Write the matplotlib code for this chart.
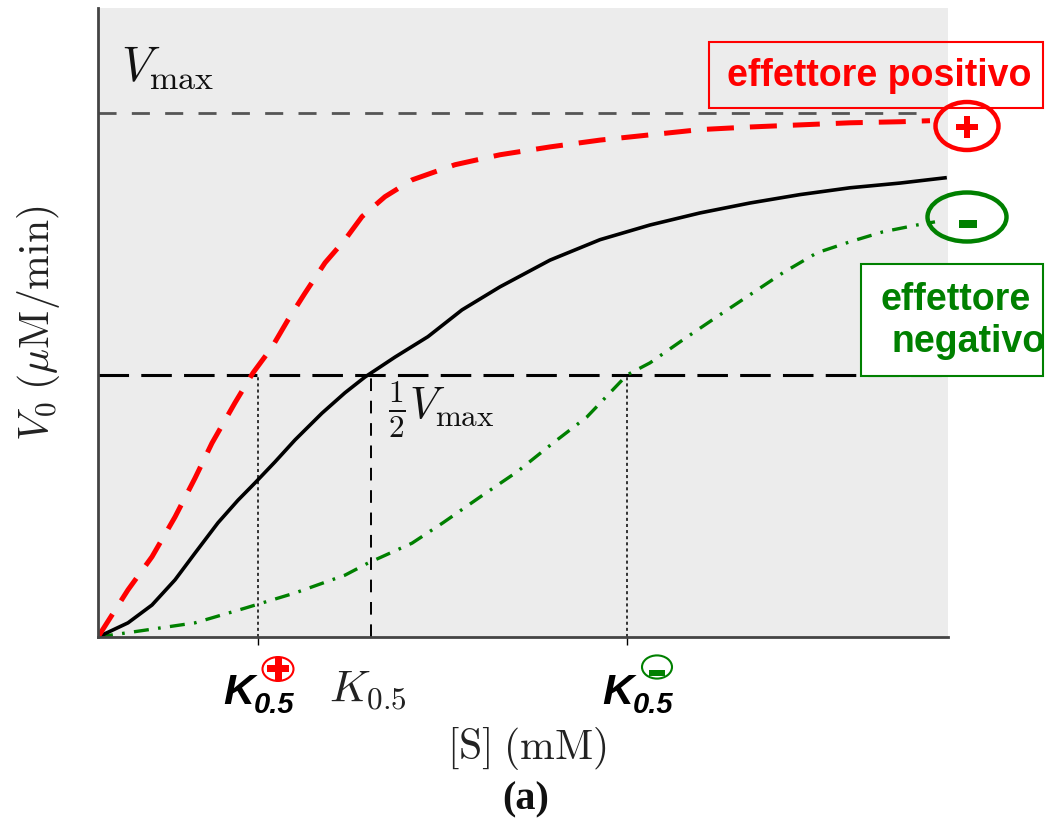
import matplotlib.pyplot as plt
from matplotlib.patches import Rectangle, Ellipse, Circle

plt.rcParams['mathtext.fontset'] = 'cm'

# curves (x: [S] arbitrary units, y: V0 / Vmax)
s_black = [0, 0.353, 0.635, 0.906, 1.141, 1.412, 1.647, 1.847, 2.082, 2.318, 2.635, 2.906, 3.141,
           3.494, 3.882, 4.282, 4.729, 5.318, 5.906, 6.494, 7.082, 7.671, 8.259, 8.847, 9.435, 9.965]
v_black = [0, 0.027, 0.061, 0.109, 0.160, 0.218, 0.261, 0.294, 0.334, 0.376, 0.427, 0.466, 0.496,
           0.534, 0.573, 0.624, 0.668, 0.719, 0.758, 0.786, 0.809, 0.828, 0.844, 0.857, 0.866, 0.876]

s_red = [0, 0.353, 0.635, 0.906, 1.141, 1.341, 1.612, 1.824, 2.047, 2.235, 2.435, 2.671, 2.906,
         3.106, 3.376, 3.694, 4.2, 4.729, 5.318, 5.906, 6.494, 7.082, 7.671, 8.259, 8.847, 9.435, 9.788]
v_red = [0, 0.090, 0.153, 0.229, 0.303, 0.370, 0.447, 0.504, 0.553, 0.605, 0.656, 0.714, 0.758,
         0.802, 0.840, 0.872, 0.901, 0.920, 0.935, 0.948, 0.958, 0.968, 0.973, 0.977, 0.981, 0.983, 0.985]

s_green = [0, 0.553, 1.141, 1.729, 2.318, 2.906, 3.176, 3.694, 4.059, 4.494, 4.929, 5.353, 5.753,
           6.224, 6.494, 6.882, 7.282, 7.671, 8.059, 8.459, 8.847, 9.235, 9.635, 9.847]
v_green = [0, 0.013, 0.027, 0.055, 0.084, 0.118, 0.141, 0.179, 0.218, 0.267, 0.315, 0.370, 0.420,
           0.5, 0.523, 0.567, 0.611, 0.653, 0.695, 0.733, 0.754, 0.773, 0.786, 0.792]

vmax = 1.0
half = 0.5
k_plus, k_mid, k_minus = 1.88, 3.21, 6.22

W, H = 1063, 821
fig = plt.figure(figsize=(W / 100, H / 100), dpi=100)
ax = fig.add_axes([98 / W, 1 - 637 / H, 850 / W, 629 / H])
ax.set_facecolor('#ececec')
ax.set_xlim(0, 10)
ax.set_ylim(0, 1.2)
for side in ['top', 'right']:
    ax.spines[side].set_visible(False)
for side in ['left', 'bottom']:
    ax.spines[side].set_color('#444444')
    ax.spines[side].set_linewidth(2)
ax.set_xticks([k_plus, k_minus])
ax.set_xticklabels([])
ax.set_yticks([])
ax.tick_params(axis='x', length=6, width=1, direction='out', color='black')

# reference lines
ax.plot([0, 9.65], [vmax, vmax], color='#555555', lw=2, dashes=(6.5, 5.5))
ax.plot([0, 10], [half, half], color='black', lw=2.2, dashes=(10, 4))
ax.plot([k_mid, k_mid], [0, half], color='black', lw=1.4, dashes=(6.5, 5))
ax.plot([k_plus, k_plus], [0, half], color='black', lw=1.1, dashes=(2, 2))
ax.plot([k_minus, k_minus], [0, half], color='black', lw=1.1, dashes=(2, 2))

# curves
ax.plot(s_green, v_green, color='#008000', lw=2.4, dashes=(4.5, 2.8, 0.8, 2.8))
ax.plot(s_black, v_black, color='black', lw=2.6, solid_joinstyle='round')
ax.plot(s_red, v_red, color='#ff0000', lw=3.6, dashes=(5.4, 3.2))


def fx(px):
    return px / W


def fy(py):
    return 1 - py / H


# serif labels
fig.text(fx(168), fy(67), r'$V_{\rm max}$', fontsize=35, ha='center', va='center', color='#111111')
fig.text(fx(441), fy(410), r'$\frac{1}{2}V_{\rm max}$', fontsize=32, ha='center', va='center', color='#111111')
fig.text(fx(39), fy(323), r'$V_0\;(\mu{\rm M/min})$', fontsize=30, rotation=90,
         ha='center', va='center', color='#222222')
fig.text(fx(527), fy(748), r'$[{\rm S}]\;({\rm mM})$', fontsize=30, ha='center', va='center', color='#222222')
fig.text(fx(526), fy(800), '(a)', fontsize=29, fontweight='bold', family='Liberation Serif',
         ha='center', va='center', color='#111111')
fig.text(fx(368), fy(690), r'$K_{0.5}$', fontsize=32, ha='center', va='center', color='#222222')

# K+ and K- labels
for kx in [223, 602]:
    fig.text(fx(kx), fy(704), 'K', fontsize=31, fontweight='bold', fontstyle='italic',
             family='Liberation Sans', ha='left', va='baseline', color='black')
    fig.text(fx(kx + 31), fy(713), '0.5', fontsize=21, fontweight='bold', fontstyle='italic',
             family='Liberation Sans', ha='left', va='baseline', color='black')

fig.add_artist(Circle((fx(278), fy(669)), 15.5 / W, transform=fig.transFigure,
                      facecolor='white', edgecolor='#ff0000', lw=1.5))
fig.add_artist(Rectangle((fx(267), fy(672)), 22 / W, 7 / H, transform=fig.transFigure,
                         facecolor='#ff0000', edgecolor='none'))
fig.add_artist(Rectangle((fx(274.5), fy(680)), 7 / W, 22 / H, transform=fig.transFigure,
                         facecolor='#ff0000', edgecolor='none'))
fig.add_artist(Circle((fx(657), fy(667)), 15 / W, transform=fig.transFigure,
                      facecolor='white', edgecolor='#008000', lw=1.5))
fig.add_artist(Rectangle((fx(649), fy(676)), 16 / W, 6 / H, transform=fig.transFigure,
                         facecolor='#008000', edgecolor='none'))

# effector boxes
fig.add_artist(Rectangle((fx(709), fy(108)), 334 / W, 66 / H, transform=fig.transFigure,
                         facecolor='none', edgecolor='#ff0000', lw=1.5))
fig.text(fx(879), fy(76), 'effettore positivo', fontsize=27, fontweight='bold',
         family='Liberation Sans', ha='center', va='center', color='#ff0000')
fig.add_artist(Rectangle((fx(861), fy(376)), 182 / W, 112 / H, transform=fig.transFigure,
                         facecolor='white', edgecolor='#008000', lw=1.5))
fig.text(fx(880), fy(300), 'effettore', fontsize=27, fontweight='bold',
         family='Liberation Sans', ha='left', va='center', color='#008000')
fig.text(fx(892), fy(342), 'negativo', fontsize=27, fontweight='bold',
         family='Liberation Sans', ha='left', va='center', color='#008000')

# circled signs at curve ends
fig.add_artist(Ellipse((fx(967), fy(126)), 63 / W, 48 / H, transform=fig.transFigure,
                       facecolor='none', edgecolor='#ff0000', lw=3.2))
fig.add_artist(Rectangle((fx(956), fy(130)), 22 / W, 6 / H, transform=fig.transFigure,
                         facecolor='#ff0000', edgecolor='none'))
fig.add_artist(Rectangle((fx(964), fy(138)), 6 / W, 22 / H, transform=fig.transFigure,
                         facecolor='#ff0000', edgecolor='none'))
fig.add_artist(Ellipse((fx(967), fy(217)), 79 / W, 49 / H, transform=fig.transFigure,
                       facecolor='none', edgecolor='#008000', lw=3.2))
fig.add_artist(Rectangle((fx(959), fy(228)), 18 / W, 8 / H, transform=fig.transFigure,
                         facecolor='#008000', edgecolor='none'))

fig.savefig('out.png', dpi=100)
